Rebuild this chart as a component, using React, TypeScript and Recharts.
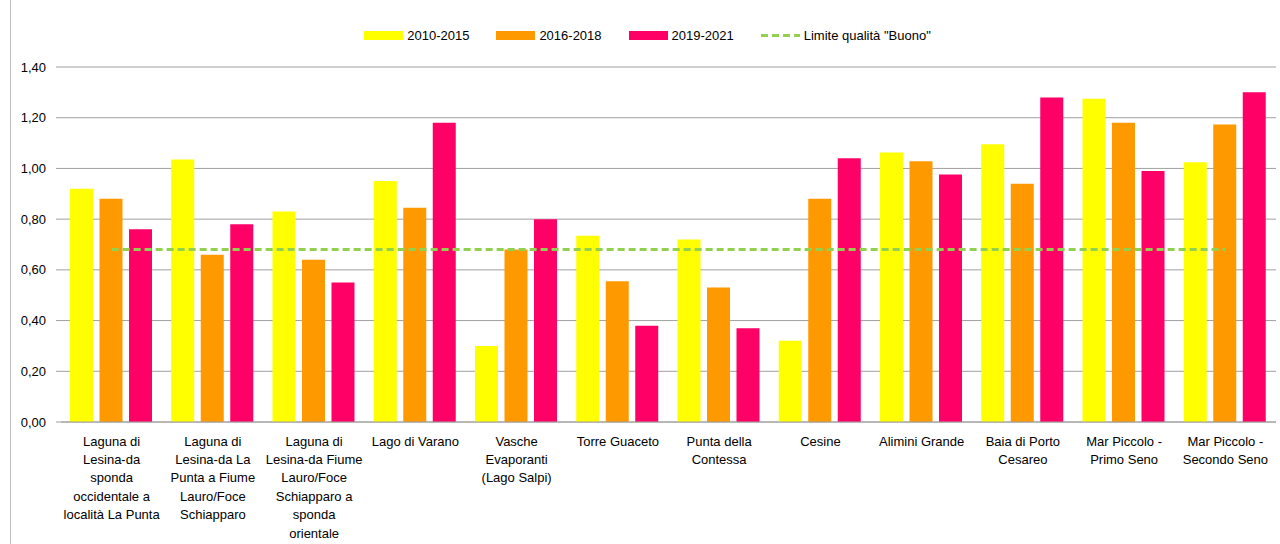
import {
  ComposedChart,
  Bar,
  Line,
  XAxis,
  YAxis,
  CartesianGrid,
} from 'recharts';

const categories = [
  'Laguna di\nLesina-da\nsponda\noccidentale a\nlocalità La Punta',
  'Laguna di\nLesina-da La\nPunta a Fiume\nLauro/Foce\nSchiapparo',
  'Laguna di\nLesina-da Fiume\nLauro/Foce\nSchiapparo a\nsponda\norientale',
  'Lago di Varano',
  'Vasche\nEvaporanti\n(Lago Salpi)',
  'Torre Guaceto',
  'Punta della\nContessa',
  'Cesine',
  'Alimini Grande',
  'Baia di Porto\nCesareo',
  'Mar Piccolo -\nPrimo Seno',
  'Mar Piccolo -\nSecondo Seno',
];

const s2010 = [0.92, 1.035, 0.83, 0.95, 0.3, 0.735, 0.72, 0.32, 1.063, 1.095, 1.275, 1.024];
const s2016 = [0.88, 0.66, 0.64, 0.845, 0.68, 0.555, 0.53, 0.88, 1.028, 0.94, 1.18, 1.173];
const s2019 = [0.76, 0.78, 0.55, 1.18, 0.8, 0.38, 0.37, 1.04, 0.976, 1.28, 0.99, 1.3];
const limite = 0.68;

const yTicks = [0, 0.2, 0.4, 0.6, 0.8, 1.0, 1.2, 1.4];

const FONT = '"Liberation Sans", Arial, sans-serif';

const data = categories.map((name, i) => ({
  name,
  a: s2010[i],
  b: s2016[i],
  c: s2019[i],
  limit: limite,
}));

const legendItems = [
  { label: '2010-2015', color: '#FFFF00', type: 'box' },
  { label: '2016-2018', color: '#FF9900', type: 'box' },
  { label: '2019-2021', color: '#FF0066', type: 'box' },
  { label: 'Limite qualità "Buono"', color: '#92D050', type: 'dash' },
];

const ChartLegend = () => (
  <div
    style={{
      position: 'absolute',
      top: 28,
      left: 21,
      width: 1280,
      display: 'flex',
      justifyContent: 'center',
      alignItems: 'center',
      fontFamily: FONT,
      fontSize: 13,
      color: '#000',
    }}
  >
    {legendItems.map((it) => (
      <div key={it.label} style={{ display: 'flex', alignItems: 'center', marginRight: 27 }}>
        {it.type === 'box' ? (
          <div style={{ width: 39, height: 9, background: it.color, marginRight: 4 }} />
        ) : (
          <svg width={39} height={9} style={{ marginRight: 4 }}>
            <line x1={0} y1={4.5} x2={39} y2={4.5} stroke={it.color} strokeWidth={3} strokeDasharray="7 4" />
          </svg>
        )}
        <span>{it.label}</span>
      </div>
    ))}
  </div>
);

const CategoryTick = (props: any) => {
  const { x, y, payload } = props;
  const lines = String(payload.value).split('\n');
  return (
    <text x={x} y={y} textAnchor="middle" fontFamily={FONT} fontSize={13} fill="#000">
      {lines.map((l, i) => (
        <tspan key={i} x={x} dy={i === 0 ? 23.5 : 18.4}>
          {l}
        </tspan>
      ))}
    </text>
  );
};

const App = () => {
  return (
    <div style={{ position: 'absolute', left: 0, top: 0, width: 1280, height: 544, background: '#fff', overflow: 'hidden' }}>
      <div style={{ position: 'absolute', left: 10, top: 0, width: 1, height: 544, background: '#bfbfbf' }} />
      <ChartLegend />
      <ComposedChart
        width={1280}
        height={544}
        data={data}
        margin={{ top: 67, right: 4, bottom: 2, left: 0 }}
        barCategoryGap={9}
        barGap={6.5}
      >
        <CartesianGrid vertical={false} stroke="#a0a0a0" />
        <XAxis
          dataKey="name"
          interval={0}
          height={120}
          tickLine={false}
          tickSize={0}
          tickMargin={0}
          axisLine={{ stroke: '#a0a0a0' }}
          tick={<CategoryTick />}
        />
        <YAxis
          width={61}
          domain={[0, 1.4]}
          ticks={yTicks}
          axisLine={false}
          tickLine={{ stroke: '#a0a0a0' }}
          tickSize={5}
          tickMargin={10}
          tickFormatter={(v: number) => v.toFixed(2).replace('.', ',')}
          tick={{ fontFamily: FONT, fontSize: 13, fill: '#000' }}
        />
        <Bar dataKey="a" fill="#FFFF00" isAnimationActive={false} />
        <Bar dataKey="b" fill="#FF9900" isAnimationActive={false} />
        <Bar dataKey="c" fill="#FF0066" isAnimationActive={false} />
        <Line
          dataKey="limit"
          stroke="#92D050"
          strokeWidth={3}
          strokeDasharray="7 4"
          dot={false}
          activeDot={false}
          isAnimationActive={false}
        />
      </ComposedChart>
    </div>
  );
};

export default App;
